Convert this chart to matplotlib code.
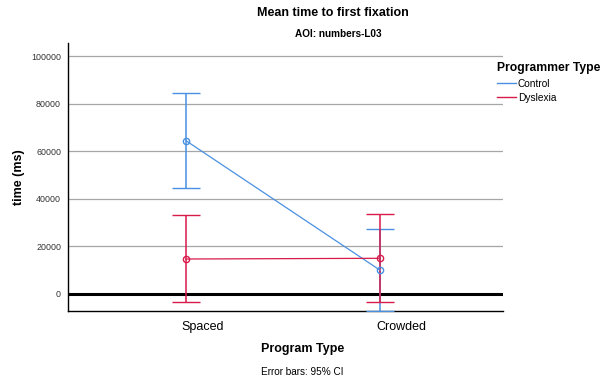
import matplotlib.pyplot as plt
import numpy as np
from matplotlib.lines import Line2D

plt.rcParams['font.family'] = ['Liberation Sans', 'DejaVu Sans']

categories = ['Spaced', 'Crowded']
groups = ['Control', 'Dyslexia']
colors = ['#4a90e2', '#d81b4a']

# means and 95% CI bounds per group (ms)
means = {'Control': [64400, 10000], 'Dyslexia': [14700, 15000]}
ci_low = {'Control': [44400, -7100], 'Dyslexia': [-3400, -3200]}
ci_high = {'Control': [84300, 27300], 'Dyslexia': [33200, 33500]}

yticks = [0, 20000, 40000, 60000, 80000, 100000]

fig = plt.figure(figsize=(6.13, 3.81), dpi=100)
ax = fig.add_axes([0.111, 0.1837, 0.7096, 0.7034])

x = np.arange(len(categories))
for g, c in zip(groups, colors):
    m = np.array(means[g])
    lo = m - np.array(ci_low[g])
    hi = np.array(ci_high[g]) - m
    ax.errorbar(x, m, yerr=[lo, hi], color=c, lw=0.9, elinewidth=1.1,
                capsize=10.4, capthick=1.1, marker='o', ms=4.5,
                mfc='none', mec=c, mew=1, zorder=3)

ax.set_xlim(-0.608, 1.634)
ax.set_ylim(-7150, 105460)

for t in yticks[1:]:
    ax.axhline(t, color='#a6a6a6', lw=0.9, zorder=1)
ax.axhline(0, color='black', lw=2.2, zorder=2)

ax.set_yticks(yticks)
ax.set_yticklabels([str(t) for t in yticks], fontsize=6.4, color='#333333')
ax.tick_params(axis='y', length=0, pad=5)
ax.set_xticks([0.088, 1.108])
ax.set_xticklabels(categories, fontsize=9)
ax.tick_params(axis='x', length=0, pad=7)

for s in ['top', 'right']:
    ax.spines[s].set_visible(False)
ax.spines['left'].set_linewidth(1.0)
ax.spines['bottom'].set_linewidth(1.0)

fig.text(0.031, 0.535, 'time (ms)', rotation=90, ha='center', va='center',
         fontsize=9, fontweight='bold')
fig.text(0.494, 0.084, 'Program Type', ha='center', va='center',
         fontsize=9, fontweight='bold')
fig.text(0.543, 0.966, 'Mean time to first fixation', ha='center', va='center',
         fontsize=9, fontweight='bold')
fig.text(0.551, 0.911, 'AOI: numbers-L03', ha='center', va='center',
         fontsize=7.2, fontweight='bold')
fig.text(0.493, 0.024, 'Error bars: 95% CI', ha='center', va='center',
         fontsize=7.2)

handles = [Line2D([0], [0], color=c, lw=1) for c in colors]
leg = fig.legend(handles, groups, loc='upper left', bbox_to_anchor=(0.81, 0.836),
                 frameon=False, fontsize=7.3, title='Programmer Type',
                 handlelength=1.9, handletextpad=0.2, labelspacing=0.4,
                 borderaxespad=0, borderpad=0, alignment='left')
leg.get_title().set_fontsize(8.7)
leg.get_title().set_fontweight('bold')

plt.savefig('out.png', dpi=100)
